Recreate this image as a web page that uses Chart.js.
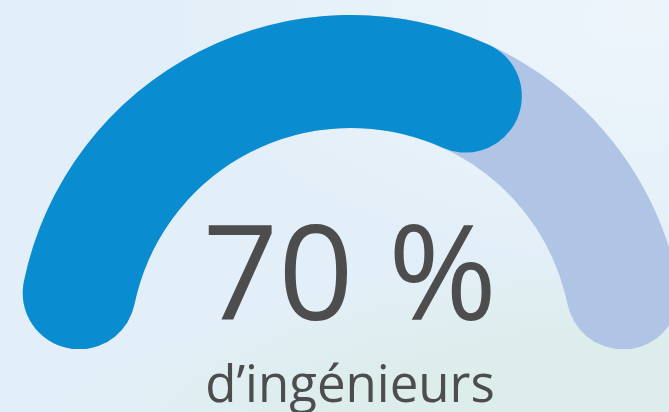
<!DOCTYPE html>
<html lang="fr">
<head>
<meta charset="utf-8">
<script src="https://cdn.jsdelivr.net/npm/chart.js@4"></script>
<style>
  html, body { margin: 0; padding: 0; }
  body {
    width: 669px; height: 412px; overflow: hidden; position: relative;
    background:
      radial-gradient(ellipse 460px 240px at 640px 20px, rgba(237,245,251,1) 0%, rgba(237,245,251,0) 100%),
      radial-gradient(ellipse 520px 190px at 640px 440px, rgba(220,237,235,1) 0%, rgba(220,237,235,1) 55%, rgba(220,237,235,0) 100%),
      radial-gradient(ellipse 320px 120px at 360px 440px, rgba(222,238,238,0.8) 0%, rgba(222,238,238,0) 100%),
      #e3eff8;
    font-family: "Open Sans", "Noto Sans", sans-serif;
  }
  .gauge { position: absolute; left: 17px; top: 15px; width: 668px; height: 334px; }
  .txt { position: absolute; left: 0; width: 700px; text-align: center; color: #4d4d4d; line-height: 1; white-space: nowrap; }
  #big { top: 203px; font-size: 132px; }
  #sub { top: 357px; font-size: 51px; }
</style>
</head>
<body>
<div class="gauge"><canvas id="track"></canvas></div>
<div class="gauge"><canvas id="gauge"></canvas></div>
<div class="txt" id="big"></div>
<div class="txt" id="sub"></div>
<script>
const labels = ["Ingénieurs", "Autres"];
const values = [70, 30];
const trackValues = [100];
const valueLabel = "70 %";
const subLabel = "d’ingénieurs";

document.getElementById('big').textContent = valueLabel;
document.getElementById('sub').textContent = subLabel;

const common = {
  responsive: true,
  maintainAspectRatio: false,
  animation: false,
  rotation: -90,
  circumference: 180,
  cutout: '66.2%',
  layout: { padding: 0 },
  plugins: { legend: { display: false }, tooltip: { enabled: false } },
  events: []
};

new Chart(document.getElementById('track'), {
  type: 'doughnut',
  data: { labels: ["Total"], datasets: [{ data: trackValues, backgroundColor: ['#b0c5e6'], borderWidth: 0, borderRadius: 57 }] },
  options: common
});

new Chart(document.getElementById('gauge'), {
  type: 'doughnut',
  data: { labels: labels, datasets: [{ data: values, backgroundColor: ['#098dd0', 'rgba(0,0,0,0)'], borderWidth: 0, borderRadius: 57 }] },
  options: common
});
</script>
</body>
</html>
